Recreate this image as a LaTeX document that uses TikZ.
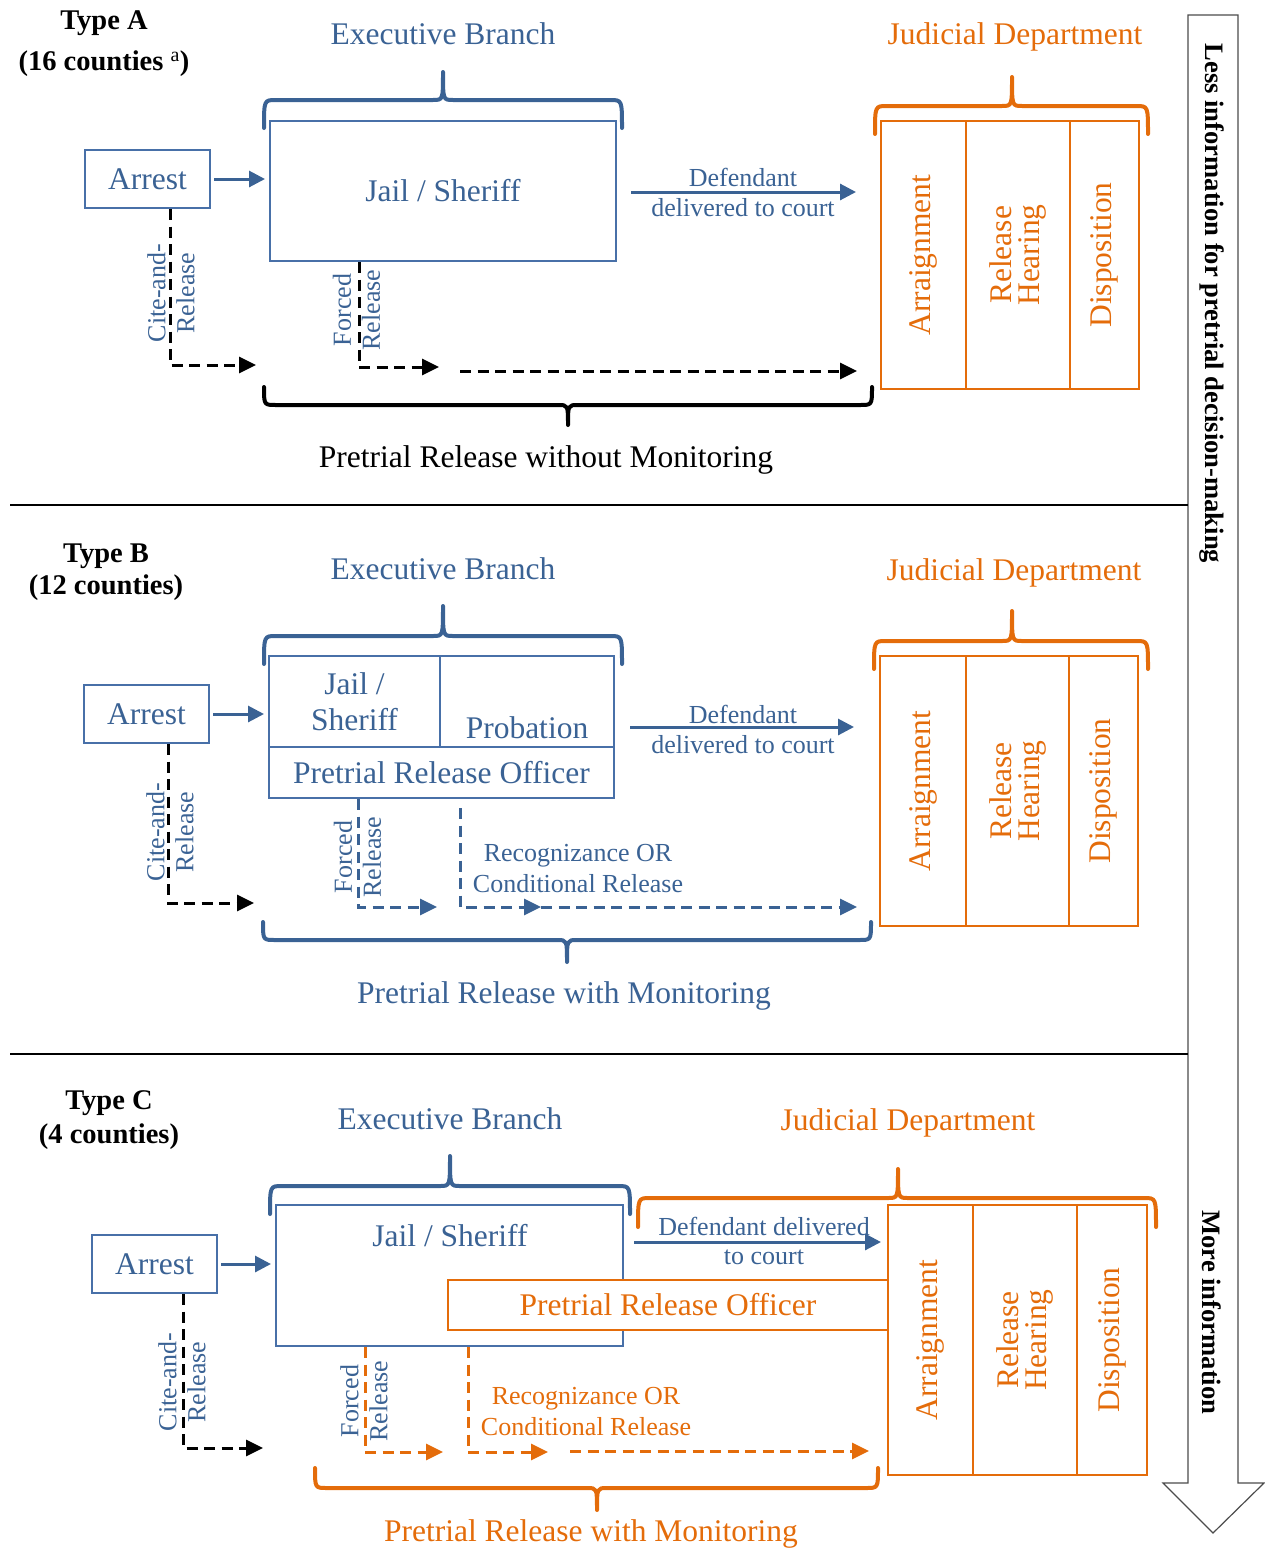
\documentclass[tikz,border=0pt]{standalone}
\usepackage{fontspec}
\setmainfont{Liberation Serif}
\usetikzlibrary{arrows.meta}
\definecolor{eb}{RGB}{58,98,148}
\definecolor{ebl}{RGB}{72,112,168}
\definecolor{jd}{RGB}{228,108,10}
\tikzset{
  big/.style={font=\fontsize{31.5}{32}\selectfont},
  med/.style={font=\fontsize{26}{29}\selectfont},
  typelab/.style={font=\bfseries\fontsize{28.5}{32}\selectfont, align=center},
  sidelab/.style={font=\bfseries\fontsize{26.6}{30}\selectfont, rotate=-90},
  bluebox/.style={draw=ebl, line width=2pt, inner sep=0pt},
  orbox/.style={draw=jd, line width=2pt, inner sep=0pt},
  solidarr/.style={line width=3pt, -{Triangle[length=16pt,width=16pt]}},
  dasharr/.style={line width=3pt, dash pattern=on 11pt off 6.5pt, -{Triangle[length=17pt,width=16pt]}},
  bracestyle/.style={line width=4pt, line cap=round, line join=round},
}
\newcommand{\mybrace}[7]{%
  \draw[bracestyle, #1] (#2,#5) .. controls (#2,#6) .. ({#2+12},#6) -- ({#4-10},#6)
    .. controls (#4,#6) .. (#4,#7) .. controls (#4,#6) .. ({#4+10},#6)
    -- ({#3-12},#6) .. controls (#3,#6) .. (#3,#5);}
\begin{document}
\begin{tikzpicture}[x=1pt, y=-1pt]
\useasboundingbox (0,0) rectangle (1264,1553);

% ---------- side arrow ----------
\draw[line width=1.2pt, draw=black!70] (1188,15) -- (1238,15) -- (1238,1483) -- (1264,1483)
  -- (1213,1533) -- (1163,1483) -- (1188,1483) -- cycle;
\node[sidelab, anchor=west] (less) at (1212,40) {Less information for pretrial decision-making};
\node[sidelab, anchor=east] (more) at (1212,1418) {More information};

% separators
\draw[line width=1.4pt] (10,505) -- (1188,505);
\draw[line width=1.4pt] (10,1054) -- (1188,1054);

% ================= TYPE A =================
\node[typelab] (tA) at (104,43.5) {Type A\\[9pt](16 counties \textsuperscript{\mdseries a})};
\node[big, text=eb] (ebA) at (443,34) {Executive Branch};
\node[big, text=jd] (jdA) at (1015,37) {Judicial Department};
\mybrace{eb}{264}{622}{443}{128}{100}{72}
\mybrace{jd}{875}{1148}{1012}{134}{106}{77}

\node[bluebox, big, text=eb, minimum width=125pt, minimum height=58pt] (arrA) at (147.5,179) {Arrest};
\node[bluebox, big, text=eb, minimum width=346pt, minimum height=140pt] (jailA) at (443,191) {Jail / Sheriff};
\node[orbox, big, text=jd, rotate=90, minimum width=268pt, minimum height=85pt] (arA) at (923.5,255) {Arraignment};
\node[orbox, text=jd, rotate=90, align=center, font=\fontsize{31.5}{28}\selectfont, minimum width=268pt, minimum height=104pt] (hrA) at (1018,255) {Release\\Hearing};
\node[orbox, big, text=jd, rotate=90, minimum width=268pt, minimum height=69pt] (dsA) at (1104.5,255) {Disposition};

\draw[solidarr, eb] ([xshift=3pt]arrA.east) -- ([xshift=-4pt]arrA.east -| jailA.west);
\coordinate (dA1) at (631,192);
\coordinate (dA2) at (856,192);
\draw[solidarr, eb] (dA1) -- (dA2);
\node[med, text=eb] (defA) at (743,177) {Defendant};
\node[med, text=eb] (delA) at (743,208) {delivered to court};

\coordinate (cA) at (256,365);
\draw[dasharr, black] ([xshift=22.5pt]arrA.south) |- (cA);
\node[med, text=eb, rotate=90, align=center] (ctA) at (171,293) {Cite-and-\\Release};
\coordinate (fA) at (439,367);
\draw[dasharr, black] ([xshift=-84pt]jailA.south) |- (fA);
\node[med, text=eb, rotate=90, align=center] (ftA) at (356.5,310) {Forced\\Release};
\coordinate (lA1) at (460,371);
\coordinate (lA2) at (857,371);
\draw[dasharr, black] (lA1) -- (lA2);

\mybrace{black}{264}{872}{568}{387}{405}{425}
\node[big] (prA) at (546,460) {Pretrial Release without Monitoring};

% ================= TYPE B =================
\node[typelab] (tB) at (106,572) {Type B\\(12 counties)};
\node[big, text=eb] (ebB) at (443,569) {Executive Branch};
\node[big, text=jd] (jdB) at (1014,573) {Judicial Department};
\mybrace{eb}{264}{622}{443}{664}{636}{606}
\mybrace{jd}{874}{1148}{1012}{669}{641}{611}

\node[bluebox, big, text=eb, minimum width=125pt, minimum height=58pt] (arrB) at (146.5,714) {Arrest};
\node[bluebox, text=eb, align=center, font=\fontsize{31.5}{36}\selectfont, minimum width=171pt, minimum height=91pt] (jailB) at (354.5,701.5) {Jail /\\Sheriff};
\node[bluebox, minimum width=174pt, minimum height=91pt] (probB) at (527,701.5) {};
\node[big, text=eb] (probBt) at (527,728) {Probation};
\node[bluebox, big, text=eb, minimum width=345pt, minimum height=51pt] (proB) at (441.5,772.5) {Pretrial Release Officer};

\node[orbox, big, text=jd, rotate=90, minimum width=270pt, minimum height=86pt] (arB) at (923,791) {Arraignment};
\node[orbox, text=jd, rotate=90, align=center, font=\fontsize{31.5}{28}\selectfont, minimum width=270pt, minimum height=103pt] (hrB) at (1017.5,791) {Release\\Hearing};
\node[orbox, big, text=jd, rotate=90, minimum width=270pt, minimum height=69pt] (dsB) at (1103.5,791) {Disposition};

\draw[solidarr, eb] ([xshift=3pt]arrB.east) -- ([xshift=-4pt]arrB.east -| jailB.west);
\coordinate (dB1) at (630,727);
\coordinate (dB2) at (854,727);
\draw[solidarr, eb] (dB1) -- (dB2);
\node[med, text=eb] (defB) at (743,714) {Defendant};
\node[med, text=eb] (delB) at (743,745) {delivered to court};

\coordinate (cB) at (254,903);
\draw[dasharr, black] ([xshift=21.5pt]arrB.south) |- (cB);
\node[med, text=eb, rotate=90, align=center] (ctB) at (170,832) {Cite-and-\\Release};
\coordinate (fB) at (437,907);
\draw[dasharr, eb] ([xshift=-83.5pt]proB.south) |- (fB);
\node[med, text=eb, rotate=90, align=center] (ftB) at (357.5,857) {Forced\\Release};
\coordinate (rB0) at (460,808);
\coordinate (rB1) at (541,907);
\coordinate (rB2) at (857,907);
\draw[dasharr, eb] (rB0) |- (rB1);
\draw[dasharr, eb] (rB1) -- (rB2);
\node[med, text=eb, align=center, font=\fontsize{26}{31}\selectfont] (rtB) at (578,868.5) {Recognizance OR\\Conditional Release};

\mybrace{eb}{263}{871}{567}{922}{940}{962}
\node[big, text=eb] (prB) at (564,996) {Pretrial Release with Monitoring};

% ================= TYPE C =================
\node[typelab, font=\bfseries\fontsize{28.5}{34}\selectfont] (tC) at (109,1120) {Type C\\(4 counties)};
\node[big, text=eb] (ebC) at (450,1119) {Executive Branch};
\node[big, text=jd] (jdC) at (908,1123) {Judicial Department};
\mybrace{eb}{270}{630}{450}{1214}{1186}{1156}
\mybrace{jd}{638}{1156}{898}{1227}{1198}{1169}

\node[bluebox, big, text=eb, minimum width=125pt, minimum height=58pt] (arrC) at (154.5,1264) {Arrest};
\node[bluebox, minimum width=347pt, minimum height=141pt] (jailC) at (449.5,1275.5) {};
\node[big, text=eb] (jailCt) at (450,1236) {Jail / Sheriff};
\node[orbox, fill=white, big, text=jd, minimum width=440pt, minimum height=50pt] (proC) at (668,1305) {Pretrial Release Officer};

\node[orbox, big, text=jd, rotate=90, minimum width=270pt, minimum height=85pt] (arC) at (930.5,1340) {Arraignment};
\node[orbox, text=jd, rotate=90, align=center, font=\fontsize{31.5}{28}\selectfont, minimum width=270pt, minimum height=104pt] (hrC) at (1025,1340) {Release\\Hearing};
\node[orbox, big, text=jd, rotate=90, minimum width=270pt, minimum height=70pt] (dsC) at (1112,1340) {Disposition};

\draw[solidarr, eb] ([xshift=3pt]arrC.east) -- ([xshift=-4pt]arrC.east -| jailC.west);
\coordinate (dC1) at (634,1242);
\coordinate (dC2) at (881,1242);
\draw[solidarr, eb] (dC1) -- (dC2);
\node[med, text=eb] (defC) at (764,1226) {Defendant delivered};
\node[med, text=eb] (delC) at (764,1257) {to court};

\coordinate (cC) at (263,1448);
\draw[dasharr, black] ([xshift=28.5pt]arrC.south) |- (cC);
\node[med, text=eb, rotate=90, align=center] (ctC) at (182,1382) {Cite-and-\\Release};
\coordinate (fC) at (443,1452);
\draw[dasharr, jd] ([xshift=-84.5pt]jailC.south) |- (fC);
\node[med, text=eb, rotate=90, align=center] (ftC) at (364,1401) {Forced\\Release};
\coordinate (rC1) at (548,1452);
\draw[dasharr, jd] ([xshift=18.5pt]jailC.south) |- (rC1);
\coordinate (rC2) at (570,1451);
\coordinate (rC3) at (869,1451);
\draw[dasharr, jd] (rC2) -- (rC3);
\node[med, text=jd, align=center, font=\fontsize{26}{31}\selectfont] (rtC) at (586,1411.5) {Recognizance OR\\Conditional Release};

\mybrace{jd}{315}{878}{597}{1468}{1488}{1510}
\node[big, text=jd] (prC) at (591,1534) {Pretrial Release with Monitoring};
\end{tikzpicture}
\end{document}
